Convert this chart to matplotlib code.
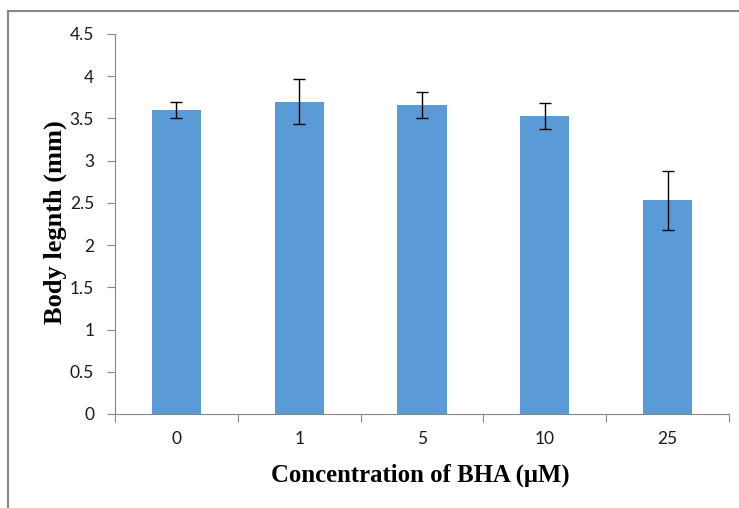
import matplotlib.pyplot as plt
from matplotlib.lines import Line2D
import numpy as np

# Data
categories = ['0', '1', '5', '10', '25']
lengths = [3.60, 3.70, 3.66, 3.53, 2.53]
errors = [0.10, 0.265, 0.155, 0.155, 0.35]

W, H = 739, 508
fig = plt.figure(figsize=(W / 100, H / 100), dpi=100)
ax = fig.add_axes([115 / W, 1 - 414 / H, (729 - 115) / W, (414 - 34) / H])

x = np.arange(len(categories))
ax.bar(x, lengths, width=0.4, color='#5B9BD5', zorder=2)
ax.errorbar(x, lengths, yerr=errors, fmt='none', ecolor='black',
            elinewidth=1, capsize=4.3, capthick=1, zorder=3)

ax.set_xlim(-0.5, len(categories) - 0.5)
ax.set_ylim(0, 4.5)
ax.set_yticks(np.arange(0, 4.51, 0.5))
ax.set_yticklabels(['0', '0.5', '1', '1.5', '2', '2.5', '3', '3.5', '4', '4.5'])

# category boundaries carry the tick marks, labels sit at centres
ax.set_xticks(np.arange(-0.5, len(categories)), minor=False)
ax.set_xticklabels([])
ax.set_xticks(x, minor=True)
ax.set_xticklabels(categories, minor=True)
ax.tick_params(axis='x', which='major', length=6, color='#868686', direction='out')
ax.tick_params(axis='x', which='minor', length=0, pad=12, labelsize=12.5)
ax.tick_params(axis='y', length=6, color='#868686', direction='out', labelsize=12.5, pad=9)
for lbl in ax.get_xticklabels(minor=True) + ax.get_yticklabels():
    lbl.set_fontfamily('Lato')
    lbl.set_color('#1a1a1a')

for side in ['top', 'right']:
    ax.spines[side].set_visible(False)
ax.spines['left'].set_color('#868686')
ax.spines['bottom'].set_color('#868686')

fig.text(420 / W, 1 - 482 / H, 'Concentration of BHA (\u03bcM)', fontfamily='Liberation Serif',
         fontweight='bold', fontsize=17.8, ha='center', va='baseline')
fig.text(55 / W, 1 - 222 / H, 'Body legnth (mm)', fontfamily='Liberation Serif',
         fontweight='bold', fontsize=19, rotation=90, ha='center', va='center')

# partial chart frame (top and left edges)
fig.add_artist(Line2D([8 / W, 1], [1 - 11 / H, 1 - 11 / H], color='#878787', lw=1.5))
fig.add_artist(Line2D([8 / W, 8 / W], [0, 1 - 11 / H], color='#878787', lw=1.5))

fig.savefig('out.png', dpi=100)
